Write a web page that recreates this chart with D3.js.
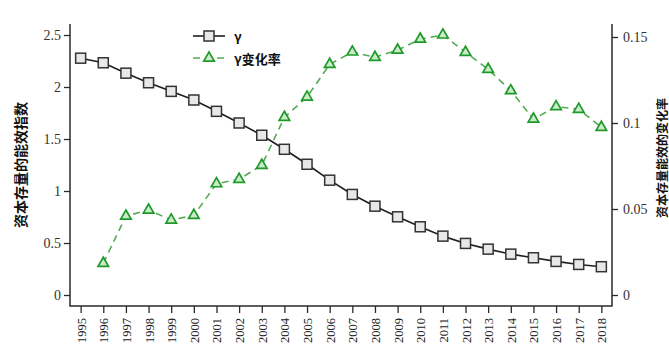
<!DOCTYPE html>
<html>
<head>
<meta charset="utf-8">
<script src="https://cdn.jsdelivr.net/npm/d3@7/dist/d3.min.js"></script>
<style>
  html, body { margin: 0; padding: 0; background: #fff; overflow: hidden; }
  svg { display: block; }
</style>
</head>
<body>
<svg id="chart" width="669" height="346"></svg>
<script>
// Years on the category axis
const years = ["1995","1996","1997","1998","1999","2000","2001","2002","2003","2004","2005","2006",
               "2007","2008","2009","2010","2011","2012","2013","2014","2015","2016","2017","2018"];

// γ: energy-efficiency index of capital stock (left axis)
const gammaValues = [2.277, 2.233, 2.133, 2.041, 1.958, 1.875, 1.766, 1.654, 1.536, 1.401, 1.257, 1.104,
                     0.967, 0.854, 0.752, 0.656, 0.566, 0.496, 0.441, 0.393, 0.358, 0.323, 0.294, 0.272];

// Rate of change of γ (right axis); no value for the first year
const rateYears = years.slice(1);
const rateValues = [0.0184, 0.0459, 0.0494, 0.0436, 0.0463, 0.0647, 0.0673, 0.0754, 0.1033, 0.1151, 0.1341,
                    0.1413, 0.1382, 0.1424, 0.1488, 0.1512, 0.1411, 0.1312, 0.1188, 0.1023, 0.1095, 0.1080, 0.0975];

const leftTicks = [0, 0.5, 1, 1.5, 2, 2.5];
const rightTicks = [0, 0.05, 0.1, 0.15];

const seriesNames = ["γ", "γ变化率"];
const leftTitle = "资本存量的能效指数";
const rightTitle = "资本存量能效的变化率";

const svg = d3.select("#chart");

const plotLeft = 70, plotRight = 612, plotTop = 24, plotBottom = 306;

const x = d3.scalePoint().domain(years).range([plotLeft, plotRight]).padding(0.47);
const yL = d3.scaleLinear().domain([0, 2.5]).range([295, 35]);
const yR = d3.scaleLinear().domain([0, 0.15]).range([295, 37]);

const serif = "'Times New Roman', 'Liberation Serif', 'DejaVu Serif', serif";
const cjk = "'Noto Sans CJK SC', 'Noto Sans', sans-serif";
const axisColor = "#2a2a2a";
const blackLine = "#1e1e1e";
const greenStroke = "#1f9a2a";
const greenLine = "#55aa55";
const greenFill = "#c9ebc9";

// Axes
const xAxis = svg.append("g")
  .attr("transform", `translate(0,${plotBottom})`)
  .call(d3.axisBottom(x).tickSize(7).tickSizeOuter(0));
xAxis.select(".domain").remove();
xAxis.selectAll("line").attr("stroke", axisColor).attr("stroke-width", 1.3);
xAxis.selectAll("text")
  .attr("transform", "rotate(-90)")
  .attr("x", -12).attr("y", 0).attr("dy", "0.36em")
  .attr("text-anchor", "end")
  .attr("font-family", serif).attr("font-size", 12.5).attr("fill", "#222");

const lAxis = svg.append("g")
  .attr("transform", `translate(${plotLeft},0)`)
  .call(d3.axisLeft(yL).tickValues(leftTicks).tickFormat(d3.format("")).tickSize(6).tickPadding(3).tickSizeOuter(0));
lAxis.select(".domain").remove();
lAxis.selectAll("line").attr("stroke", axisColor).attr("stroke-width", 1.3);
lAxis.selectAll("text").attr("font-family", serif).attr("font-size", 14).attr("fill", "#333");

const rAxis = svg.append("g")
  .attr("transform", `translate(${plotRight},0)`)
  .call(d3.axisRight(yR).tickValues(rightTicks).tickFormat(d3.format("")).tickSize(6).tickPadding(5).tickSizeOuter(0));
rAxis.select(".domain").remove();
rAxis.selectAll("line").attr("stroke", axisColor).attr("stroke-width", 1.3);
rAxis.selectAll("text").attr("font-family", serif).attr("font-size", 14).attr("fill", "#333");

// Frame lines: left, right and bottom
svg.append("path")
  .attr("d", `M${plotLeft},${plotTop}V${plotBottom}H${plotRight}V${plotTop}`)
  .attr("fill", "none").attr("stroke", axisColor).attr("stroke-width", 1.5);

// Axis titles
svg.append("text")
  .attr("transform", `translate(20,165) rotate(-90)`)
  .attr("text-anchor", "middle").attr("dominant-baseline", "central")
  .attr("font-family", cjk).attr("font-size", 14).attr("font-weight", "bold")
  .attr("fill", "#111").text(leftTitle);
svg.append("text")
  .attr("transform", `translate(661,158) rotate(-90)`)
  .attr("text-anchor", "middle").attr("dominant-baseline", "central")
  .attr("font-family", cjk).attr("font-size", 12).attr("font-weight", "bold")
  .attr("fill", "#111").text(rightTitle);

// Rate-of-change series (dashed green, triangles)
const rateData = rateYears.map((d, i) => ({ year: d, v: rateValues[i] }));
svg.append("path")
  .datum(rateData)
  .attr("fill", "none").attr("stroke", greenLine).attr("stroke-width", 1.6)
  .attr("stroke-dasharray", "7,5")
  .attr("d", d3.line().x(d => x(d.year)).y(d => yR(d.v)));

const tri = d3.symbol().type(d3.symbolTriangle).size(48);
svg.append("g").selectAll("path")
  .data(rateData).join("path")
  .attr("transform", d => `translate(${x(d.year)},${yR(d.v)})`)
  .attr("d", tri)
  .attr("fill", greenFill).attr("stroke", greenStroke).attr("stroke-width", 1.7);

// γ series (solid black, squares)
const gammaData = years.map((d, i) => ({ year: d, v: gammaValues[i] }));
svg.append("path")
  .datum(gammaData)
  .attr("fill", "none").attr("stroke", blackLine).attr("stroke-width", 1.6)
  .attr("d", d3.line().x(d => x(d.year)).y(d => yL(d.v)));

svg.append("g").selectAll("rect")
  .data(gammaData).join("rect")
  .attr("x", d => x(d.year) - 5).attr("y", d => yL(d.v) - 5)
  .attr("width", 10).attr("height", 10)
  .attr("fill", "#e8e8e8").attr("stroke", "#333").attr("stroke-width", 1.5);

// Legend
const legend = svg.append("g");
legend.append("line").attr("x1", 193).attr("x2", 225).attr("y1", 36).attr("y2", 36)
  .attr("stroke", blackLine).attr("stroke-width", 1.6);
legend.append("rect").attr("x", 204).attr("y", 31).attr("width", 10).attr("height", 10)
  .attr("fill", "#e8e8e8").attr("stroke", "#333").attr("stroke-width", 1.5);
legend.append("line").attr("x1", 193).attr("x2", 225).attr("y1", 58).attr("y2", 58)
  .attr("stroke", greenLine).attr("stroke-width", 1.6).attr("stroke-dasharray", "7,5");
legend.append("path").attr("transform", "translate(209,58)").attr("d", tri)
  .attr("fill", greenFill).attr("stroke", greenStroke).attr("stroke-width", 1.7);
legend.selectAll("text.lab")
  .data(seriesNames).join("text").attr("class", "lab")
  .attr("x", 234).attr("y", (d, i) => 36 + i * 22).attr("dominant-baseline", "central")
  .attr("font-family", cjk).attr("font-size", 13).attr("font-weight", "bold")
  .attr("fill", "#111").text(d => d);
</script>
</body>
</html>
